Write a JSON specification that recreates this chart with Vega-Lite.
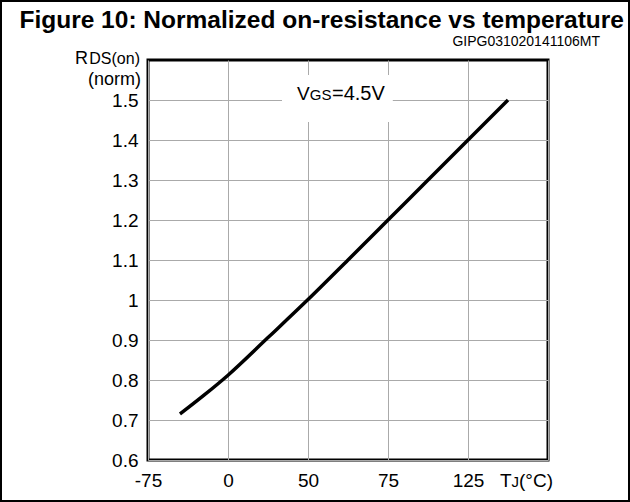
{
  "$schema": "https://vega.github.io/schema/vega-lite/v6.json",
  "width": 400,
  "height": 400,
  "autosize": {"type": "none"},
  "padding": {"left": 148, "top": 60, "right": 82, "bottom": 42},
  "background": "white",
  "config": {"font": "Liberation Sans", "view": {"stroke": "black", "strokeWidth": 3}},
  "datasets": {
    "one": [{}],
    "curve": [
      {"T": -55, "R": 0.715},
      {"T": -40, "R": 0.762},
      {"T": -25, "R": 0.812},
      {"T": 0, "R": 0.906},
      {"T": 25, "R": 1.001},
      {"T": 50, "R": 1.1},
      {"T": 75, "R": 1.2},
      {"T": 100, "R": 1.3},
      {"T": 125, "R": 1.4},
      {"T": 150, "R": 1.5}
    ]
  },
  "layer": [
    {
      "data": {"name": "one"},
      "mark": {"type": "rect", "fill": "white", "fillOpacity": 0, "stroke": "black", "strokeWidth": 2, "clip": false},
      "encoding": {
        "x": {"datum": -166.875, "type": "quantitative"},
        "x2": {"datum": 225.625},
        "y": {"datum": 1.7475, "type": "quantitative"},
        "y2": {"datum": 0.4975}
      }
    },
    {
      "data": {"name": "one"},
      "mark": {"type": "rect", "fill": "white", "strokeWidth": 0},
      "encoding": {
        "x": {"datum": 8.75, "type": "quantitative"},
        "x2": {"datum": 78},
        "y": {"datum": 1.5625, "type": "quantitative"},
        "y2": {"datum": 1.445}
      }
    },
    {
      "data": {"name": "curve"},
      "mark": {"type": "line", "color": "black", "strokeWidth": 3.5, "interpolate": "monotone"},
      "encoding": {
        "x": {
          "field": "T", "type": "quantitative",
          "scale": {"domain": [-75, 175], "nice": false, "zero": false},
          "axis": {
            "values": [-75, -50, -25, 0, 25, 50, 75, 100, 125, 150, 175],
            "grid": true, "gridColor": "#aaaaaa", "gridWidth": 1,
            "ticks": false, "domain": false,
            "labelExpr": "datum.value == -75 ? '-75' : datum.value == -25 ? '0' : datum.value == 25 ? '50' : datum.value == 75 ? '75' : datum.value == 125 ? '125' : ''",
            "labelFontSize": 19, "labelColor": "black", "labelPadding": 11,
            "labelFlush": false, "labelOverlap": false, "title": null
          }
        },
        "y": {
          "field": "R", "type": "quantitative",
          "scale": {"domain": [0.6, 1.6], "nice": false, "zero": false},
          "axis": {
            "values": [0.6, 0.7, 0.8, 0.9, 1.0, 1.1, 1.2, 1.3, 1.4, 1.5],
            "format": ".1~f",
            "grid": true, "gridColor": "#aaaaaa", "gridWidth": 1,
            "ticks": false, "domain": false,
            "labelFontSize": 19, "labelColor": "black", "labelPadding": 10,
            "labelFlush": false, "labelOverlap": false, "title": null,
            "encode": {"labels": {"update": {"dy": {"signal": "datum.value === 0.6 ? -6 : 2"}}}}
          }
        }
      }
    },
    {
      "data": {"name": "one"},
      "mark": {"type": "text", "text": "V", "fontSize": 19, "align": "left", "baseline": "alphabetic", "color": "black"},
      "encoding": {"x": {"datum": 18.1, "type": "quantitative"}, "y": {"datum": 1.5, "type": "quantitative"}}
    },
    {
      "data": {"name": "one"},
      "mark": {"type": "text", "text": "GS", "fontSize": 15, "align": "left", "baseline": "alphabetic", "color": "black"},
      "encoding": {"x": {"datum": 26.1, "type": "quantitative"}, "y": {"datum": 1.5, "type": "quantitative"}}
    },
    {
      "data": {"name": "one"},
      "mark": {"type": "text", "text": "=4.5V", "fontSize": 20, "align": "left", "baseline": "alphabetic", "color": "black"},
      "encoding": {"x": {"datum": 40, "type": "quantitative"}, "y": {"datum": 1.5, "type": "quantitative"}}
    },
    {
      "data": {"name": "one"},
      "mark": {"type": "text", "text": "DS(on)", "fontSize": 16, "align": "right", "baseline": "alphabetic", "dx": -8, "dy": 4, "color": "black"},
      "encoding": {"x": {"datum": -75, "type": "quantitative"}, "y": {"datum": 1.6, "type": "quantitative"}}
    },
    {
      "data": {"name": "one"},
      "mark": {"type": "text", "text": "R", "fontSize": 18, "align": "right", "baseline": "alphabetic", "dx": -60, "dy": 4, "color": "black"},
      "encoding": {"x": {"datum": -75, "type": "quantitative"}, "y": {"datum": 1.6, "type": "quantitative"}}
    },
    {
      "data": {"name": "one"},
      "mark": {"type": "text", "text": "(norm)", "fontSize": 18, "align": "right", "baseline": "alphabetic", "dx": -7, "dy": 25, "color": "black"},
      "encoding": {"x": {"datum": -75, "type": "quantitative"}, "y": {"datum": 1.6, "type": "quantitative"}}
    },
    {
      "data": {"name": "one"},
      "mark": {"type": "text", "text": "T", "fontSize": 19, "align": "left", "baseline": "alphabetic", "dx": -48, "dy": 27, "color": "black"},
      "encoding": {"x": {"datum": 175, "type": "quantitative"}, "y": {"datum": 0.6, "type": "quantitative"}}
    },
    {
      "data": {"name": "one"},
      "mark": {"type": "text", "text": "J", "fontSize": 15, "align": "left", "baseline": "alphabetic", "dx": -36.5, "dy": 27, "color": "black"},
      "encoding": {"x": {"datum": 175, "type": "quantitative"}, "y": {"datum": 0.6, "type": "quantitative"}}
    },
    {
      "data": {"name": "one"},
      "mark": {"type": "text", "text": "(°C)", "fontSize": 19, "align": "left", "baseline": "alphabetic", "dx": -29, "dy": 27, "color": "black"},
      "encoding": {"x": {"datum": 175, "type": "quantitative"}, "y": {"datum": 0.6, "type": "quantitative"}}
    },
    {
      "data": {"name": "one"},
      "mark": {"type": "text", "text": "Figure 10: Normalized on-resistance vs temperature", "fontSize": 24.5, "fontWeight": "bold", "align": "right", "baseline": "alphabetic", "dx": 76, "dy": -32, "color": "black"},
      "encoding": {"x": {"datum": 175, "type": "quantitative"}, "y": {"datum": 1.6, "type": "quantitative"}}
    },
    {
      "data": {"name": "one"},
      "mark": {"type": "text", "text": "GIPG031020141106MT", "fontSize": 14, "align": "right", "baseline": "alphabetic", "dx": 52, "dy": -14, "color": "black"},
      "encoding": {"x": {"datum": 175, "type": "quantitative"}, "y": {"datum": 1.6, "type": "quantitative"}}
    }
  ]
}
